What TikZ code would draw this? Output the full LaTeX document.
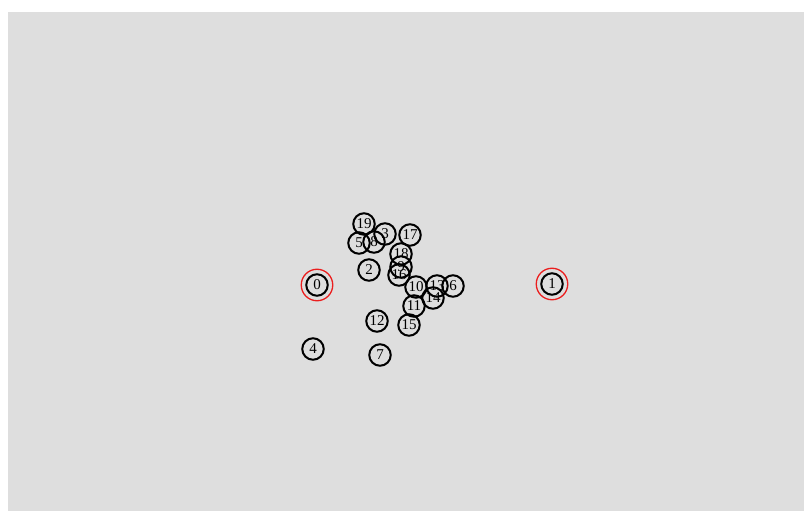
\documentclass[tikz,border=0pt]{standalone}
\usepackage{fontspec}
\setmainfont{Liberation Serif}
\definecolor{bg}{RGB}{222,222,222}
\definecolor{hl}{RGB}{235,30,30}
\tikzset{
  vert/.style={circle,draw=black,line width=2pt,minimum size=21.5pt,inner sep=0pt,font=\fontsize{15}{17}\selectfont},
  mark ring/.style={circle,draw=hl,line width=1.3pt,minimum size=31.5pt,inner sep=0pt}
}
\begin{document}
\begin{tikzpicture}[x=1pt,y=-1pt]
\useasboundingbox (0,0) rectangle (804,511);
\fill[white] (0,0) rectangle (804,511);
\fill[bg] (8,12) rectangle (804,511);
\node[mark ring] (r0) at (317,285) {};
\node[mark ring] (r1) at (552,284) {};
\node[vert] (n0) at (317,285) {0};
\node[vert] (n1) at (552,284) {1};
\node[vert] (n4) at (313,349) {4};
\node[vert] (n7) at (380,355) {7};
\node[vert] (n12) at (377,321) {12};
\node[vert] (n2) at (369,270) {2};
\node[vert] (n15) at (409,325) {15};
\node[vert] (n11) at (414,306) {11};
\node[vert] (n17) at (410,235) {17};
\node[vert] (n19) at (364,224) {19};
\node[vert] (n3) at (385,234) {3};
\node[vert] (n5) at (359,243) {5};
\node[vert] (n8) at (374,242) {8};
\node[vert] (n18) at (401,254) {18};
\node[vert] (n9) at (401,267) {9};
\node[vert] (n16) at (399,275) {16};
\node[vert] (n10) at (416,287) {10};
\node[vert] (n14) at (433,298) {14};
\node[vert] (n13) at (437,286) {13};
\node[vert] (n6) at (453,286) {6};
\end{tikzpicture}
\end{document}
